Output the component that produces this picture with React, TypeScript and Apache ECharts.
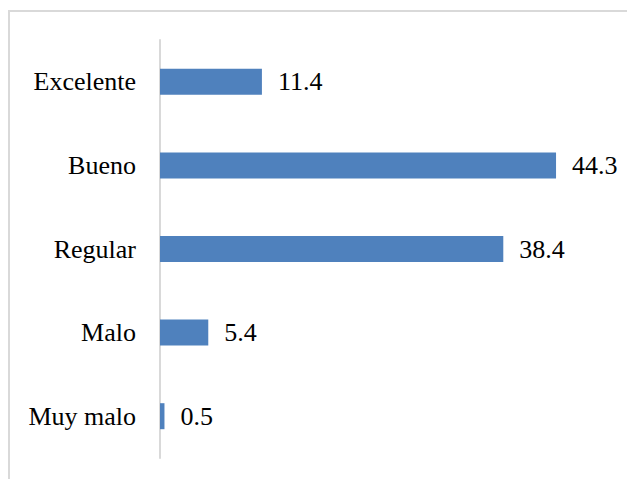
import React, { useEffect, useRef } from "react";
import * as echarts from "echarts";

const categories = ["Excelente", "Bueno", "Regular", "Malo", "Muy malo"];
const values = [11.4, 44.3, 38.4, 5.4, 0.5];
const axisMax = 50;

export default function App() {
  const ref = useRef<HTMLDivElement>(null);
  useEffect(() => {
    if (!ref.current) return;
    const chart = echarts.init(ref.current, null, { renderer: "svg" });
    const font = "Liberation Serif";
    chart.setOption({
      animation: false,
      backgroundColor: "#ffffff",
      graphic: [
        {
          type: "rect",
          shape: { x: 9, y: 11, width: 630, height: 480 },
          style: { fill: "none", stroke: "#d9d9d9", lineWidth: 2 },
          silent: true,
        },
      ],
      grid: { left: 160, right: 20, top: 40, bottom: 21, containLabel: false },
      xAxis: {
        type: "value",
        min: 0,
        max: axisMax,
        show: false,
      },
      yAxis: {
        type: "category",
        data: categories,
        inverse: true,
        axisLine: { show: true, lineStyle: { color: "#d9d9d9", width: 2 } },
        axisTick: { show: false },
        axisLabel: {
          color: "#000000",
          fontFamily: font,
          fontSize: 26,
          margin: 24,
        },
        splitLine: { show: false },
      },
      series: [
        {
          type: "bar",
          data: values,
          barWidth: 26,
          itemStyle: { color: "#4f81bd" },
          label: {
            show: true,
            position: "right",
            distance: 16,
            color: "#000000",
            fontFamily: font,
            fontSize: 26,
            formatter: (p: any) => p.value.toFixed(1),
          },
        },
      ],
    });
    return () => chart.dispose();
  }, []);
  return (
    <div
      ref={ref}
      style={{ position: "fixed", left: 0, top: 0, width: 627, height: 479 }}
    />
  );
}
